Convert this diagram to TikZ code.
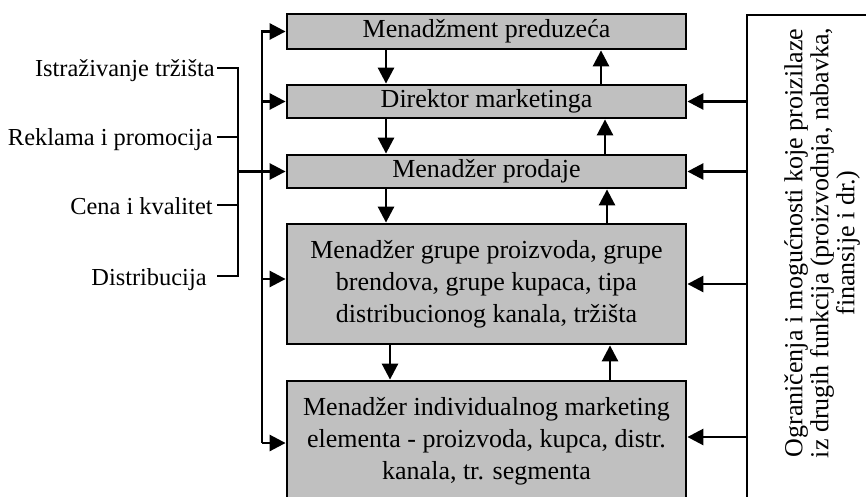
\documentclass[tikz,border=0pt]{standalone}
\usepackage{fontspec}
\setmainfont{Liberation Serif}
\usetikzlibrary{arrows.meta}
\definecolor{boxgray}{HTML}{C0C0C0}
\begin{document}
\begin{tikzpicture}[x=0.5pt,y=-0.5pt,
  box/.style={draw, fill=boxgray, line width=1.4pt, minimum width=199.5pt, inner sep=0pt, align=center, font=\fontsize{13}{15.9}\selectfont},
  arr/.style={line width=1.35pt, -{Triangle[length=8pt,width=8pt]}},
  ln/.style={line width=1.35pt},
  lab/.style={anchor=east, inner sep=0pt, text height=9pt, text depth=0pt, font=\fontsize{12.2}{15}\selectfont}]
\useasboundingbox (0,0) rectangle (866,497);
\clip (0,0) rectangle (866,497);
% helper x positions
\coordinate (bus) at (262,0);
\coordinate (brx) at (238,0);
\coordinate (tk) at (217,0);
\coordinate (dA) at (386,0);
\coordinate (dB) at (390,0);
\coordinate (u1) at (601,0);
\coordinate (u2) at (605,0);
\coordinate (u3) at (607,0);
\coordinate (u4) at (610,0);
% boxes
\node[box, minimum height=17.5pt] (b1) at (486.5,31.5) {Menadžment preduzeća};
\node[box, minimum height=16.5pt] (b2) at (486.5,101.5) {Direktor marketinga};
\node[box, minimum height=16.5pt] (b3) at (486.5,171.5) {Menadžer prodaje};
\node[box, minimum height=60pt] (b4) at (486.5,284) {Menadžer grupe proizvoda, grupe\\brendova, grupe kupaca, tipa\\distribucionog kanala, tržišta};
\node[box, minimum height=60pt] (b5) at (486.5,441) {Menadžer individualnog marketing\\elementa - proizvoda, kupca, distr.\\kanala, tr. segmenta};
% side box
\node[draw, line width=1.4pt, minimum width=70pt, minimum height=250pt, inner sep=0pt] (side) at (817,265) {};
\node[rotate=90, align=center, inner sep=0pt, font=\fontsize{13}{13}\selectfont] (sidetext) at (822,243) {Ograničenja i mogućnosti koje proizilaze\\iz drugih funkcija (proizvodnja, nabavka,\\finansije i dr.)};
% labels
\node[lab] (l1) at (215,68) {Istraživanje tržišta};
\node[lab] (l2) at (213,137) {Reklama i promocija};
\node[lab] (l3) at (213,205) {Cena i kvalitet};
\node[lab] (l4) at (207,276) {Distribucija};
% bracket
\draw[ln] (tk |- l1.east) -| (brx |- l4.east) -- (tk |- l4.east);
\draw[ln] (tk |- l2.east) -- (brx |- l2.east);
\draw[ln] (tk |- l3.east) -- (brx |- l3.east);
\draw[arr] (brx |- b3.west) -- (b3.west);
% bus
\draw[arr] ([yshift=-1pt]bus |- b5.west) -- (bus |- b1.west) -- (b1.west);
\draw[arr] ([yshift=-1pt]bus |- b5.west) -- ([yshift=-1pt]b5.west);
\draw[arr] (bus |- b2.west) -- (b2.west);
\draw[arr] ([yshift=2.5pt]bus |- b4.west) -- ([yshift=2.5pt]b4.west);
% down arrows
\draw[arr] (dA |- b1.south) -- (dA |- b2.north);
\draw[arr] (dA |- b2.south) -- (dA |- b3.north);
\draw[arr] (dA |- b3.south) -- (dA |- b4.north);
\draw[arr] (dB |- b4.south) -- (dB |- b5.north);
% up arrows
\draw[arr] (u1 |- b2.north) -- (u1 |- b1.south);
\draw[arr] (u2 |- b3.north) -- (u2 |- b2.south);
\draw[arr] (u3 |- b4.north) -- (u3 |- b3.south);
\draw[arr] (u4 |- b5.north) -- (u4 |- b4.south);
% side arrows
\draw[arr] (side.west |- b2.east) -- (b2.east);
\draw[arr] (side.west |- b3.east) -- (b3.east);
\draw[arr] (side.west |- b4.east) -- (b4.east);
\draw[arr] ([yshift=2pt]side.west |- b5.east) -- ([yshift=2pt]b5.east);
\end{tikzpicture}
\end{document}
